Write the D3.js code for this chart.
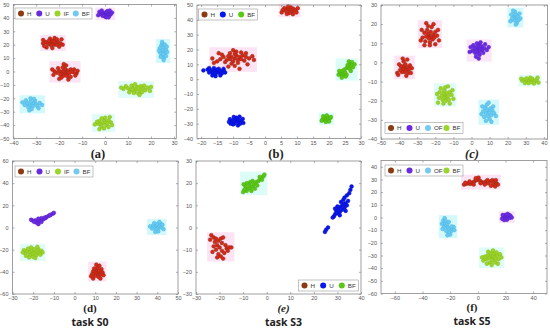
<!DOCTYPE html>
<html>
<head>
<meta charset="utf-8">
<script src="https://cdn.jsdelivr.net/npm/d3@7"></script>
<style>
  body { margin: 0; background: #fff; }
  svg { display: block; }
  .tick text { font-family: "Liberation Sans", Arial, sans-serif; fill: #555; }
</style>
</head>
<body>
<div id="chart"></div>
<script>
// ---- tick values per panel ----
const aXTicks = [-40, -30, -20, -10, 0, 10, 20, 30];
const aYTicks = [-50, -40, -30, -20, -10, 0, 10, 20, 30, 40, 50];
const bXTicks = [-20, -15, -10, -5, 0, 5, 10, 15, 20, 25, 30];
const bYTicks = [-40, -30, -20, -10, 0, 10, 20, 30, 40, 50];
const cXTicks = [-50, -40, -30, -20, -10, 0, 10, 20, 30, 40];
const cYTicks = [-40, -30, -20, -10, 0, 10, 20, 30];
const dXTicks = [-30, -20, -10, 0, 10, 20, 30, 40, 50];
const dYTicks = [-60, -40, -20, 0, 20, 40, 60];
const eXTicks = [-30, -20, -10, 0, 10, 20, 30, 40];
const eYTicks = [-30, -20, -10, 0, 10, 20, 30];
const fXTicks = [-60, -40, -20, 0, 20, 40];
const fYTicks = [-60, -50, -40, -30, -20, -10, 0, 10, 20, 30, 40];

// ---- legend categories ----
const legendA = ['H', 'U', 'IF', 'BF'];
const legendB = ['H', 'U', 'BF'];
const legendC = ['H', 'U', 'OF', 'BF'];
const legendD = ['H', 'U', 'IF', 'BF'];
const legendE = ['H', 'U', 'BF'];
const legendF = ['H', 'U', 'OF', 'BF'];

// ---- panel (a) points ----
const aH1 = [[-23,21],[-24,22],[-22,20],[-21.5,21.5],[-24.5,20.5],[-23,23],[-22,22.5],[-25,21],[-21,20],[-23.5,19.5],[-20.5,22],[-26,22],[-27,21],[-19.5,21],[-24,24.5],[-22,25],[-25.5,18],[-20,18.5],[-27,23.5],[-19,24],[-23,17.5],[-26.5,19],[-18.5,20],[-21,24],[-24.5,23]];
const aH2 = [[-17.5,-1],[-18.5,0],[-16.5,-2],[-17,1],[-19,-1.5],[-16,0.5],[-18,-3],[-15.5,-1],[-20,0.5],[-17.5,2],[-19.5,-2.5],[-15,1.5],[-16.5,-3.5],[-21,-1],[-14,-0.5],[-18.5,3],[-20.5,2.5],[-13.5,1.5],[-22,0],[-12.5,-1.5],[-19,-4.5],[-15,-4],[-17,4.5],[-22.5,-2.5],[-13,-3],[-20,-5.5],[-16,-6],[-18,5.5],[-23,1.5],[-12,0.5]];
const aU = [[0,43],[-1,44],[1,42],[-0.5,42],[1.5,43.5],[-1.5,42.5],[0.5,44.5],[2,42],[-2,43.5],[0,41],[1,45],[-1,41.5],[2.5,43],[-2.5,44.5],[0.5,40.5],[-1.5,45.5],[3,44],[-3,42],[1.5,40.5],[2,45.5]];
const aIF1 = [[13.5,-13],[12,-12],[15,-14],[14,-11.5],[11,-14],[16.5,-12.5],[13,-15],[10,-12.5],[17.5,-14],[15.5,-11],[12.5,-16],[9,-11],[18.5,-12],[14.5,-16.5],[11.5,-10.5],[16,-15.5],[8,-13],[19.5,-14.5],[10.5,-15.5],[17,-10.5],[13,-9.5],[15,-17.5],[7,-12],[20,-11.5],[12,-13.5],[14.5,-12.5]];
const aIF2 = [[-1,-38.5],[0,-37.5],[-2,-39.5],[-0.5,-36],[0.5,-40],[-2.5,-37],[1,-38.5],[-1.5,-41],[-3,-39],[1.5,-36.5],[-0.5,-42.5],[2.5,-38],[-3.5,-37.5],[0,-34.5],[-1.5,-35],[1.5,-41.5],[-2.5,-43],[3,-40],[-4.5,-39.5],[2,-34]];
const aBF1 = [[25.3,15],[24.5,16.5],[26,13.5],[25,12],[25.8,18],[24,14],[26.5,16],[25.5,10],[24.5,19.5],[26.5,11.5],[23.8,17.5],[25,21],[26,20],[24.2,11],[27,14.5],[23.5,15.5],[25.5,8.5],[26.8,18.5],[24.8,22],[25.2,13]];
const aBF2 = [[-32,-24.5],[-31,-23.5],[-33,-25.5],[-32.5,-22.5],[-31.5,-26],[-30,-24.5],[-34,-23.5],[-33.5,-26.5],[-30.5,-22],[-32,-28],[-35,-25],[-29.5,-26],[-31,-20.5],[-34.5,-21.5],[-28.5,-23.5],[-33,-29],[-36,-23],[-29,-27.5],[-32.5,-20],[-27.5,-25]];

// ---- panel (b) points ----
const bH1 = [[-9.5,14],[-10.5,15],[-8.5,13],[-9,16],[-11,13.5],[-8,15],[-10,12],[-7.5,13.5],[-11.5,15.5],[-9.5,17],[-12,13],[-7,16],[-8.5,11],[-10.5,10.5],[-13,15],[-6.5,12.5],[-12.5,11.5],[-6,15],[-9,18.5],[-11,17.5],[-14,13.5],[-5,14],[-13.5,16.5],[-7.5,18],[-9.5,9],[-15,12],[-4,15.5],[-16,11],[-3.5,13],[-11.5,8.5],[-8,7],[-14.5,17.5],[-5.5,10],[-10,19.5],[-6,17.5],[-16.5,14]];
const bH2 = [[7.7,46.5],[7,47.5],[8.5,45.5],[6.5,46],[8.8,47.5],[7.5,44.5],[6,47.8],[9.5,46.5],[8,48.5],[6.8,44],[9.8,45],[5.5,46.5],[10.2,47.8],[7.2,49],[8.7,43.8],[5.2,45]];
const bU1 = [[-15.3,5],[-16,6],[-14.5,4.5],[-15,6.5],[-16.5,4.5],[-14,5.5],[-15.5,3.5],[-17,6],[-13.5,4],[-16,7.5],[-14.5,7],[-17.5,4.5],[-13,6],[-15.5,2],[-16.5,2.5],[-18,6.5],[-12.5,4.5],[-14,2.5],[-17.5,7.5],[-13,7],[-19.3,5.9]];
const bU2 = [[-9,-28.3],[-9.8,-27.5],[-8.2,-29],[-9.5,-29.8],[-8.5,-27],[-10.5,-28.5],[-7.5,-28],[-9,-26],[-10,-30.5],[-7.8,-30],[-11,-27],[-7,-26.8],[-8.5,-31.2],[-10.8,-30],[-6.8,-29.5],[-9.8,-25.5],[-11.3,-28.8],[-8,-25.3]];
const bBF1 = [[24,2.5],[24.5,3.5],[23.5,4],[25,4.5],[24.2,5.5],[23,3],[25.5,3],[24.8,6.5],[25.5,7.5],[26,8.5],[26.5,7],[25.8,9.5],[26.5,10.5],[27,9],[27.2,11.5],[26.2,12],[27.5,8],[23.2,5.5],[25.2,1.8],[26.8,5.5],[28,10],[24,1]];
const bBF2 = [[19.1,-26.7],[18.5,-26],[19.8,-27.3],[18.7,-27.8],[19.5,-25.5],[18,-27],[20.3,-26.3],[19,-28.8],[18.2,-25],[20,-28.5],[17.7,-28],[20.6,-25.5],[19.3,-24.5]];

// ---- panel (c) points ----
const cH1 = [[-23,14],[-24,15],[-22,13],[-23.5,12.5],[-22.5,16],[-25,13.5],[-21,14.5],[-24.5,17],[-21.5,12],[-26,15.5],[-20,16],[-23,10.5],[-25.5,11],[-20.5,13],[-27,13],[-19,14],[-24,19],[-22,18.5],[-18.5,17],[-27.5,17],[-26,9],[-20,9.5],[-23,9],[-18,11.5],[-28,11.5],[-25,20.5],[-21,20]];
const cH2 = [[-36.8,-3],[-37.5,-2],[-36,-4],[-38,-3.5],[-35.5,-2.5],[-37,-5],[-36.5,-1],[-39,-2],[-34.5,-3.5],[-38.5,-5],[-35,-5.5],[-39.5,-4],[-34,-1.5],[-37.5,0.5],[-40,-1],[-33,-3],[-41,-5.5],[-35.5,1.5],[-38,2],[-33.5,-5.5],[-40.5,-6.5],[-36,-7]];
const cU = [[3.7,7],[3,8],[4.5,6],[2.5,6.5],[5,7.5],[3.5,5],[4,9],[1.5,7.5],[6,6.5],[2,5],[5.5,8.5],[0.5,6],[7,7.5],[3,10],[1,9],[6.5,5],[4.5,4],[8.5,6.5],[-0.5,8],[5,10.5],[2.5,3],[7.5,9.5],[4,2],[9.5,8],[-1,5.5]];
const cOF1 = [[24,23.5],[23,24.5],[25,22.5],[24.5,25],[23.5,22],[25.5,24],[22.5,23],[24,26.5],[26,22],[22,25],[25,20.5],[26.5,25.5],[21.5,21.5],[23,27],[27,23],[24.5,19.8]];
const cOF2 = [[9.2,-25.5],[8.5,-24.5],[10,-26.5],[8,-26.5],[10.5,-24],[9,-28],[7.5,-23.5],[11,-27.5],[8.5,-22],[11.5,-25],[6.5,-25.5],[10,-29.5],[7,-28.5],[12.5,-26.5],[9.5,-21],[6,-23],[12,-23],[8,-30.5],[11,-31],[13.5,-28],[5.5,-27]];
const cBF1 = [[-14.7,-17],[-15.5,-16],[-14,-18],[-15,-18.5],[-13.5,-16],[-16.5,-17.5],[-13,-17.5],[-15,-14.5],[-16,-19.5],[-12,-15.5],[-17.5,-15.5],[-14,-20],[-12.5,-19.5],[-18,-18.5],[-14.5,-13],[-11,-17],[-17,-13.5],[-19,-16.5],[-10.5,-14.5],[-15.5,-21.5],[-12,-21.5],[-18.5,-21],[-13,-12.5],[-10,-19]];
const cBF2 = [[32,-9.7],[31,-9.2],[33,-10.3],[30,-9.8],[34,-9.3],[29,-9],[35,-10],[31.5,-10.8],[33.5,-8.5],[28,-9.5],[36,-9],[30.5,-8.3],[34.5,-11],[27.5,-8.5],[37,-10.5],[32.5,-8],[29.5,-10.8],[36.5,-8]];

// ---- panel (d) points ----
const dU = [[-18,6],[-17,5.5],[-19,6.5],[-16.5,7],[-18.5,4.5],[-17.5,3],[-20.5,6.5],[-16,5],[-19.5,5],[-15,7.5],[-14,8.5],[-13.5,9.5],[-12.5,10.5],[-11.5,11.5],[-10.5,12.5],[-10,13.2],[-12,11],[-14.5,9],[-16,8.5],[-17.5,8],[-21,7]];
const dIF = [[-20,-22],[-21,-21],[-19,-23],[-22,-22.5],[-18,-21.5],[-20.5,-24],[-19.5,-19.5],[-23,-21],[-17,-23],[-21.5,-25],[-18.5,-25],[-22.5,-19],[-17.5,-19.5],[-24,-23],[-16,-21],[-20,-26.5],[-23.5,-25.5],[-16.5,-24.5],[-21,-18],[-18,-17.5],[-24.5,-20.5],[-15.5,-22.5],[-22,-27],[-19,-27.5],[-25,-22.5]];
const dBF = [[39.7,0.5],[39,1.5],[40.5,-0.5],[38.5,0],[41,1.5],[40,3],[38,2],[42,0],[39.5,-2],[41.5,3.5],[37.5,-1],[42.5,2.5],[40.5,-3.5],[38.5,4],[43,-1.5],[36.5,1],[41,5],[39,-4]];
const dH = [[11,-40],[10.5,-38.5],[11.5,-41.5],[10,-41],[12,-39],[11,-36.5],[10,-43.5],[12.5,-42.5],[9,-39.5],[13,-37.5],[11.5,-44.5],[9.5,-37],[12,-34.5],[8.5,-42],[13.5,-40.5],[10.5,-33.5],[8,-44],[14,-43],[12.5,-46],[9,-46]];

// ---- panel (e) points ----
const eBF = [[-7,18],[-8,17.5],[-6,18.5],[-7.5,19.5],[-8.5,16.5],[-6.5,16.5],[-9,18.5],[-5.5,19.5],[-9.5,17],[-7,20.5],[-5,17.5],[-8.5,20],[-10,16],[-6,21],[-4.5,20.5],[-3.5,21],[-2.5,22],[-1.5,23],[-1,23.8],[-2,21.5],[-3,22.8],[-4,19],[-9.8,19.5]];
const eU = [[24.7,-2],[25.2,-1],[26,0],[28.5,5],[29,6],[28,4.5],[29.5,7.5],[30,6.5],[30.5,8.5],[31,7],[31.5,9.5],[30,9.5],[32,8],[32.5,10.5],[31.5,11.5],[33,9],[33.5,11],[32.5,12.5],[34,10],[33,13.5],[34.5,12],[34,14.5],[35,15.5],[35.5,17],[36,18.5],[29,8.5],[31,5.5],[33.5,7.5]];
const eH = [[-23.5,-3.5],[-22.5,-4.5],[-21.5,-5],[-22,-6.5],[-20.5,-6],[-19.5,-5],[-21,-8],[-20,-9],[-21.5,-10],[-19,-10.5],[-20.5,-12],[-19.5,-13],[-18.5,-14],[-18,-11.5],[-17,-9.5],[-16,-9],[-15,-9],[-17.5,-8],[-22.5,-8.5],[-23,-11],[-19,-7],[-18.5,-4.5],[-24,-5.5],[-21,-13.5],[-16.5,-10.5]];

// ---- panel (f) points ----
const fH = [[-10,26],[-8.5,26.5],[-7,27],[-5.5,26.5],[-4,27.5],[-2.5,28.5],[-1,29.5],[0,30],[1.5,29],[3,28],[4.5,27.5],[6,28.5],[7.5,27],[9,28.5],[10.5,29.5],[12,28],[13.5,27],[14.5,26],[11,26],[9.5,25],[12.5,24.5],[-6,28.5],[-9,27.5],[-3,26],[2,27],[0.5,31.5],[-1.5,31],[13,29.5],[5,26],[7,29.5]];
const fU = [[20.8,0],[20,0.8],[21.5,-0.7],[19.5,-0.5],[22,0.8],[21,-1.8],[18.5,0.5],[23,-0.3],[20,2],[22.5,2],[19,-2],[23.5,1.5],[17.5,-1],[24.5,0],[21.5,2.8],[18,2]];
const fOF = [[-22.5,-7],[-23.5,-6],[-21.5,-8],[-24,-4],[-25,-2.5],[-23,-3],[-22,-5],[-24.5,-7.5],[-20.5,-9.5],[-19.5,-11],[-21,-12],[-20,-13.5],[-18.5,-9],[-17.5,-7.5],[-19,-7],[-26,-5],[-25.5,-9],[-23,-10.5],[-24,-0.5],[-21,-3.5],[-17,-10],[-22,-14]];
const fBF = [[10,-31.5],[9,-30.5],[11,-32.5],[8,-32],[12,-30.5],[10.5,-34],[7,-30],[13,-32.5],[9.5,-28],[11.5,-28.5],[6,-33],[14,-30],[8.5,-35.5],[12.5,-35.5],[5,-31],[15,-33],[7.5,-27],[13.5,-27.5],[10,-37.5],[4,-34],[16,-29],[6.5,-36.5],[14.5,-36.5],[11,-26],[3,-31.5],[17,-31.5]];

// colours for each marker style: fill, edge, legend swatch, halo (null = no halo)
const styles = {
  H:      { fill: '#e3231b', stroke: '#7d3510', swatch: '#8b3a12', halo: '#fde4f4' },
  Upur:   { fill: '#6c2ce2', stroke: '#5520c4', swatch: '#6a2be0', halo: '#fbe6f8' },
  UpurNo: { fill: '#6c2ce2', stroke: '#5520c4', swatch: '#6a2be0', halo: null },
  Ublue:  { fill: '#0a16f0', stroke: '#0610b8', swatch: '#0a16f0', halo: null },
  YG:     { fill: '#9cd42a', stroke: '#84bd1c', swatch: '#9bd42a', halo: '#e0fcf8' },
  G:      { fill: '#5cc816', stroke: '#49ad0e', swatch: '#5cc816', halo: '#dcfcf8' },
  LB:     { fill: '#68cbf2', stroke: '#4fb5e0', swatch: '#74c9f0', halo: '#d4f9fb' }
};

const panels = [
  { box: [13.3, 176.3, 4.5, 138.5], xd: [-40, 31], yd: [-50, 50], xt: aXTicks, yt: aYTicks,
    clusters: [[aH1,'H'],[aH2,'H'],[aU,'Upur'],[aIF1,'YG'],[aIF2,'YG'],[aBF1,'LB'],[aBF2,'LB']],
    legend: { x: 15, y: 8, w: 77, names: legendA, keys: ['H','Upur','YG','LB'] },
    label: '(a)', italic: false, lx: 98, task: null },
  { box: [197, 361, 5, 138.5], xd: [-21.3, 30], yd: [-40, 50], xt: bXTicks, yt: bYTicks,
    clusters: [[bH1,'H'],[bH2,'H'],[bU1,'Ublue'],[bU2,'Ublue'],[bBF1,'G'],[bBF2,'G']],
    legend: { x: 198.5, y: 9, w: 59, names: legendB, keys: ['H','Ublue','G'] },
    label: '(b)', italic: false, lx: 276, task: null },
  { box: [381, 547.5, 5, 139], xd: [-50, 42], yd: [-40, 30], xt: cXTicks, yt: cYTicks,
    clusters: [[cH1,'H'],[cH2,'H'],[cU,'Upur'],[cOF1,'LB'],[cOF2,'LB'],[cBF1,'YG'],[cBF2,'YG']],
    legend: { x: 385, y: 122.5, w: 78, names: legendC, keys: ['H','Upur','LB','YG'] },
    label: '(c)', italic: true, lx: 472, task: null },
  { box: [12.5, 178, 161, 294], xd: [-30, 50], yd: [-60, 60], xt: dXTicks, yt: dYTicks,
    clusters: [[dU,'UpurNo'],[dIF,'YG'],[dBF,'LB'],[dH,'H']],
    legend: { x: 15, y: 166, w: 78, names: legendD, keys: ['H','Upur','YG','LB'] },
    label: '(d)', italic: false, lx: 90, task: 'task S0' },
  { box: [196, 361, 161, 294], xd: [-30, 40], yd: [-30, 30], xt: eXTicks, yt: eYTicks,
    clusters: [[eBF,'G'],[eU,'Ublue'],[eH,'H']],
    legend: { x: 298.5, y: 280, w: 60, names: legendE, keys: ['H','Ublue','G'] },
    label: '(e)', italic: true, lx: 283.5, task: 'task S3' },
  { box: [381, 547, 160.5, 293.5], xd: [-70, 50], yd: [-60, 45], xt: fXTicks, yt: fYTicks,
    clusters: [[fH,'H'],[fU,'Upur'],[fOF,'LB'],[fBF,'YG']],
    legend: { x: 385, y: 165, w: 78, names: legendF, keys: ['H','Upur','LB','YG'] },
    label: '(f)', italic: false, lx: 472, task: 'task S5' }
];

const svg = d3.select('#chart').append('svg')
  .attr('width', 550)
  .attr('height', 328);

panels.forEach((p) => {
  const [l, r, t, b] = p.box;
  const x = d3.scaleLinear().domain(p.xd).range([l, r]);
  const y = d3.scaleLinear().domain(p.yd).range([b, t]);
  const g = svg.append('g');

  //Soft coloured halo behind each cluster
  p.clusters.forEach(([pts, key]) => {
    if (!styles[key].halo) return;
    const xe = d3.extent(pts, (d) => x(d[0]));
    const ye = d3.extent(pts, (d) => y(d[1]));
    g.append('rect')
      .attr('x', xe[0] - 3).attr('y', ye[0] - 3)
      .attr('width', xe[1] - xe[0] + 6).attr('height', ye[1] - ye[0] + 6)
      .attr('fill', styles[key].halo);
  });

  //Points
  p.clusters.forEach(([pts, key]) => {
    g.selectAll(null)
      .data(pts)
      .enter()
      .append('circle')
      .attr('cx', (d) => x(d[0]))
      .attr('cy', (d) => y(d[1]))
      .attr('r', 1.9)
      .attr('fill', styles[key].fill)
      .attr('stroke', styles[key].stroke)
      .attr('stroke-width', 0.5);
  });

  //Axes with inward ticks on all four sides
  const fmt = d3.format('d');
  const axes = [
    [d3.axisBottom(x).tickValues(p.xt).tickSize(-2).tickPadding(2.5).tickFormat(fmt), 'translate(0,' + b + ')'],
    [d3.axisTop(x).tickValues(p.xt).tickSize(-2).tickFormat(''), 'translate(0,' + t + ')'],
    [d3.axisLeft(y).tickValues(p.yt).tickSize(-2).tickPadding(4).tickFormat(fmt), 'translate(' + l + ',0)'],
    [d3.axisRight(y).tickValues(p.yt).tickSize(-2).tickFormat(''), 'translate(' + r + ',0)']
  ];
  axes.forEach(([ax, tr]) => {
    const a = g.append('g').attr('transform', tr).call(ax);
    a.select('.domain').remove();
    a.selectAll('line').attr('stroke', '#777').attr('stroke-width', 0.6);
    a.selectAll('text').style('font-size', '5.5px');
  });

  g.append('rect')
    .attr('x', l).attr('y', t)
    .attr('width', r - l).attr('height', b - t)
    .attr('fill', 'none')
    .attr('stroke', '#888')
    .attr('stroke-width', 0.8);

  //Legend
  const lg = p.legend;
  const leg = g.append('g').attr('transform', 'translate(' + lg.x + ',' + lg.y + ')');
  leg.append('rect')
    .attr('width', lg.w).attr('height', 11)
    .attr('fill', '#fff')
    .attr('stroke', '#999')
    .attr('stroke-width', 0.6);
  const step = (lg.w - 4) / lg.names.length;
  lg.names.forEach((name, i) => {
    const cx = 6 + i * step;
    leg.append('circle')
      .attr('cx', cx).attr('cy', 5.5).attr('r', 3)
      .attr('fill', styles[lg.keys[i]].swatch);
    leg.append('text')
      .attr('x', cx + 6).attr('y', 7.7)
      .style('font-family', '"Liberation Sans", Arial, sans-serif')
      .style('font-size', '6.2px')
      .attr('fill', '#333')
      .text(name);
  });

  //Panel caption
  const lower = !!p.task;
  svg.append('text')
    .attr('x', p.lx)
    .attr('y', b + (lower ? 17.5 : 19))
    .attr('text-anchor', 'middle')
    .style('font-family', '"Liberation Serif", "DejaVu Serif", serif')
    .style('font-weight', 'bold')
    .style('font-style', p.italic ? 'italic' : 'normal')
    .style('font-size', lower ? '11px' : '12.5px')
    .attr('fill', '#222')
    .text(p.label);

  if (lower) {
    svg.append('text')
      .attr('x', p.lx)
      .attr('y', b + 31.5)
      .attr('text-anchor', 'middle')
      .style('font-family', '"Open Sans", "Noto Sans", sans-serif')
      .style('font-weight', 'bold')
      .style('font-size', '10.5px')
      .attr('fill', '#222')
      .text(p.task);
  }
});
</script>
</body>
</html>
